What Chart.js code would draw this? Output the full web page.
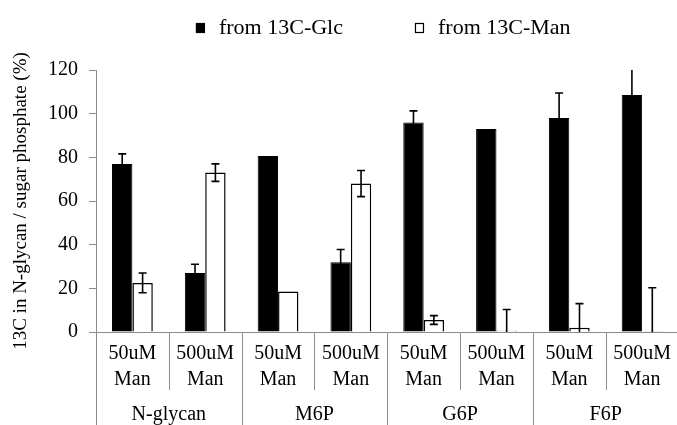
<!DOCTYPE html>
<html>
<head>
<meta charset="utf-8">
<script src="https://cdn.jsdelivr.net/npm/chart.js@4.4.1/dist/chart.umd.min.js"></script>
<style>
  html, body { margin: 0; padding: 0; background: #fff; overflow: hidden; }
  #wrap { width: 680px; height: 425px; }
</style>
</head>
<body>
<div id="wrap"><canvas id="chart" width="680" height="425"></canvas></div>
<script>
const conditions = [
  ['50uM', 'Man'], ['500uM', 'Man'],
  ['50uM', 'Man'], ['500uM', 'Man'],
  ['50uM', 'Man'], ['500uM', 'Man'],
  ['50uM', 'Man'], ['500uM', 'Man'],
];
const groups = ['N-glycan', 'M6P', 'G6P', 'F6P'];

const glcValues = [77, 27, 80.6, 32, 96, 93, 98, 108.5];
const glcErrors = [4.6, 4, 0, 5.8, 5.3, 0, 11.5, 12];
const manValues = [22.5, 73, 18.5, 68, 5.5, 0.6, 2, 0.3];
const manErrors = [4.5, 4, 0, 6, 2, 9.7, 11, 20];

const SERIF = '"Liberation Serif", "Times New Roman", serif';
const AXIS_GREY = '#8c8c8c';

/* ─── error bars, clipped to the plot area ─── */
const errorBars = {
  id: 'errorBars',
  afterDatasetsDraw(chart) {
    const { ctx, chartArea, scales: { y } } = chart;
    ctx.save();
    ctx.beginPath();
    ctx.rect(chartArea.left, chartArea.top, chartArea.right - chartArea.left, chartArea.bottom - chartArea.top);
    ctx.clip();
    ctx.strokeStyle = '#000';
    ctx.lineWidth = 1.6;
    chart.data.datasets.forEach((ds, i) => {
      const meta = chart.getDatasetMeta(i);
      meta.data.forEach((bar, j) => {
        const e = ds.errors[j];
        if (!e) return;
        const v = ds.data[j];
        const yHi = y.getPixelForValue(v + e);
        const yLo = y.getPixelForValue(v - e);
        ctx.beginPath();
        ctx.moveTo(bar.x, yHi); ctx.lineTo(bar.x, yLo);
        ctx.moveTo(bar.x - 4, yHi); ctx.lineTo(bar.x + 4, yHi);
        ctx.moveTo(bar.x - 4, yLo); ctx.lineTo(bar.x + 4, yLo);
        ctx.stroke();
      });
    });
    ctx.restore();
  }
};

/* ─── table-like separators under the x axis ─── */
const separators = {
  id: 'separators',
  afterDraw(chart) {
    const { ctx, chartArea, scales: { x, x2 } } = chart;
    ctx.save();
    ctx.strokeStyle = AXIS_GREY;
    ctx.lineWidth = 1;
    for (let i = 0; i <= conditions.length; i++) {
      const px = Math.round(x.getPixelForValue(i - 0.5)) + 0.5;
      const bottom = i % 2 === 0 ? x2.bottom : x.bottom - 2;
      ctx.beginPath();
      ctx.moveTo(px, chartArea.bottom);
      ctx.lineTo(px, bottom);
      ctx.stroke();
    }
    ctx.restore();
  }
};

/* ─── legend above the plot ─── */
const topLegend = {
  id: 'topLegend',
  afterDraw(chart) {
    const { ctx, chartArea } = chart;
    const items = chart.data.datasets;
    ctx.save();
    ctx.font = '22px ' + SERIF;
    ctx.textBaseline = 'middle';
    const box = 9, gapText = 14, gapItem = 72;
    const widths = items.map(d => box + gapText + ctx.measureText(d.label).width);
    const total = widths.reduce((a, b) => a + b, 0) + gapItem * (items.length - 1);
    let xx = (chartArea.left + chartArea.right) / 2 - 4 - total / 2;
    const cy = 28;
    items.forEach((d, i) => {
      ctx.fillStyle = d.backgroundColor;
      ctx.fillRect(xx, cy - 5, box, 10);
      ctx.strokeStyle = '#000';
      ctx.lineWidth = 1.2;
      ctx.strokeRect(xx + 0.5, cy - 4.5, box - 1, 9);
      ctx.fillStyle = '#000';
      ctx.fillText(d.label, xx + box + gapText, cy);
      xx += widths[i] + gapItem;
    });
    ctx.restore();
  }
};

new Chart(document.getElementById('chart'), {
  type: 'bar',
  data: {
    labels: conditions,
    datasets: [
      {
        label: 'from 13C-Glc',
        data: glcValues,
        errors: glcErrors,
        backgroundColor: '#000',
        borderColor: '#000',
        borderWidth: 1,
      },
      {
        label: 'from 13C-Man',
        data: manValues,
        errors: manErrors,
        backgroundColor: '#fff',
        borderColor: '#000',
        borderWidth: 1.5,
      }
    ]
  },
  options: {
    responsive: false,
    animation: false,
    devicePixelRatio: 1,
    categoryPercentage: 0.56,
    barPercentage: 1,
    layout: { padding: { top: 70, left: 0, right: 0, bottom: 0 } },
    plugins: { legend: { display: false }, tooltip: { enabled: false } },
    scales: {
      x: {
        offset: true,
        weight: 0,
        grid: { display: false, drawTicks: false },
        border: { color: AXIS_GREY, width: 1 },
        ticks: {
          color: '#000',
          font: { family: SERIF, size: 20, lineHeight: 1.3 },
          padding: 9,
          maxRotation: 0,
          autoSkip: false,
        },
        afterFit: s => { s.height = 60; }
      },
      x2: {
        type: 'category',
        position: 'bottom',
        labels: groups,
        offset: true,
        weight: 1,
        grid: { display: false, drawTicks: false },
        border: { display: false },
        ticks: {
          color: '#000',
          font: { family: SERIF, size: 20, lineHeight: 1.1 },
          padding: 12,
          maxRotation: 0,
          autoSkip: false,
        },
        afterFit: s => { s.height = 33; }
      },
      y: {
        min: 0,
        max: 120,
        grid: { drawOnChartArea: false, drawTicks: true, tickLength: 7, color: AXIS_GREY },
        border: { color: AXIS_GREY, width: 1 },
        ticks: {
          stepSize: 20,
          color: '#000',
          font: { family: SERIF, size: 20 },
          padding: 11,
        },
        title: {
          display: true,
          text: '13C in N-glycan / sugar phosphate (%)',
          color: '#000',
          font: { family: SERIF, size: 19 },
          padding: { top: 10, bottom: 0 },
        },
        afterFit: s => { s.width = 96; }
      }
    }
  },
  plugins: [errorBars, separators, topLegend]
});
</script>
</body>
</html>
